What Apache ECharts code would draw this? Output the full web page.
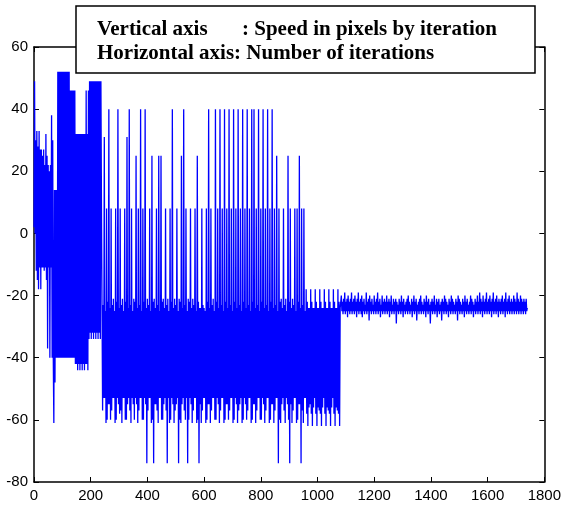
<!DOCTYPE html>
<html>
<head>
<meta charset="utf-8">
<script src="https://cdn.jsdelivr.net/npm/echarts@6/dist/echarts.min.js"></script>
<style>
  html, body { margin: 0; padding: 0; background: #fff; }
  #chart { width: 564px; height: 508px; }
</style>
</head>
<body>
<div id="chart"></div>
<script>
const xTicks = [0, 1800, 200]
const yTicks = [-80, 60, 20]

// iterations 0 .. 238, one sample every 2 iterations
const earlyStart = 0, earlyStep = 2
const speedEarly = [
  2, 49, 0, 30, -12, 33, -15, 28, -18, 33, -11, 27,
  -18, 27, -11, 25, -11, 27, -12, 22, -11, 32, -15, 25,
  -37, 22, -11, 20, -40, 22, -11, 38, -40, 30, -40, -61,
  14, -48, 14, -40, 14, -40, 52, -40, 52, -40, 52, -40,
  52, -40, 52, -40, 52, -40, 52, -40, 52, -40, 52, -40,
  52, -40, 52, -40, 46, -40, 46, -40, 46, -40, 46, -40,
  46, -42, 32, -42, 32, -44, 32, -42, 32, -44, 32, -42,
  32, -44, 32, -42, 32, -44, 32, -42, 46, -42, 32, -44,
  46, -34, 49, -32, 49, -34, 49, -32, 49, -34, 49, -32,
  49, -34, 49, -32, 49, -34, 49, -32, 49, -34, 49, 8
]

// iterations 240 .. 1080, one sample every 2 iterations
const midStart = 240, midStep = 2
const speedMid = [
  8, -57, -23, -53, 31, -53, -25, -61, 8, -60, -22, -55, 40, -55, -24, -60, 8, -57, -23, -53,
  -21, -53, -25, -61, 8, -60, -22, -53, 40, -55, -24, -58, 8, -57, -23, -61, -21, -53, -25, -53,
  8, -60, -22, -60, 31, -55, -24, -53, 40, -57, -23, -61, 8, -53, -25, -55, -21, -60, -22, -53,
  25, -55, -24, -61, 8, -57, -23, -53, 40, -53, -25, -60, 8, -60, -22, -53, 40, -55, -24, -74,
  -21, -57, -23, -53, 8, -53, -25, -61, 25, -60, -22, -74, -21, -55, -24, -55, 8, -57, -23, -61,
  25, -53, -25, -53, 25, -60, -22, -60, -21, -55, -24, -53, 8, -57, -23, -74, -21, -53, -25, -61,
  8, -60, -22, -53, 40, -55, -24, -61, -21, -57, -23, -55, 8, -53, -25, -74, -21, -60, -22, -61,
  25, -55, -24, -53, 40, -57, -23, -60, 8, -53, -25, -74, -21, -60, -22, -53, 8, -55, -24, -61,
  -21, -57, -23, -53, 8, -53, -25, -61, 25, -60, -22, -74, -24, -55, -24, -61, 8, -57, -23, -53,
  -24, -53, -25, -61, 8, -60, -22, -55, 40, -55, -24, -61, 8, -57, -23, -53, -21, -53, -25, -60,
  40, -60, -22, -53, 8, -55, -24, -61, 40, -57, -23, -53, 8, -53, -25, -61, 40, -60, -22, -55,
  8, -55, -24, -60, 40, -57, -23, -53, 8, -53, -25, -61, 40, -60, -22, -53, 8, -55, -24, -61,
  40, -57, -23, -55, 8, -53, -25, -61, 40, -60, -22, -53, 8, -55, -24, -60, 40, -57, -23, -53,
  8, -53, -25, -61, 40, -60, -22, -55, 40, -55, -24, -61, 8, -57, -23, -53, 40, -53, -25, -60,
  8, -60, -22, -53, 40, -55, -24, -61, 8, -57, -23, -53, 40, -53, -25, -61, 8, -60, -22, -55,
  40, -55, -24, -61, 8, -57, -23, -53, 25, -53, -25, -74, 8, -60, -22, -61, -21, -55, -24, -53,
  8, -57, -23, -61, -21, -53, -25, -55, 25, -60, -22, -74, 8, -55, -24, -61, -21, -57, -23, -53,
  8, -53, -25, -61, 8, -60, -22, -55, 25, -55, -24, -74, 8, -57, -23, -61, 8, -53, -25, -53,
  -18, -58, -22, -62, -24, -56, -24, -55, -18, -58, -22, -62, -24, -56, -24, -53, -18, -58, -22, -62,
  -24, -56, -24, -57, -18, -58, -22, -62, -24, -56, -24, -53, -18, -58, -22, -62, -24, -56, -24, -57,
  -18, -58, -22, -62, -24, -56, -24, -53, -18, -58, -22, -62, -24, -56, -24, -57, -18, -58, -22, -62,
  -24
]

// iterations 1084 .. 1740, one sample every 2 iterations
const lateStart = 1084, lateStep = 2
const speedLate = [
  -20, -25, -22, -26, -21, -25, -19, -26, -22, -25, -21, -27, -20, -25, -22, -26, -21, -25, -19, -26,
  -22, -25, -21, -26, -20, -25, -22, -27, -21, -25, -19, -26, -22, -25, -21, -26, -20, -27, -22, -25,
  -21, -26, -23, -25, -19, -26, -22, -25, -21, -28, -20, -25, -22, -26, -21, -25, -23, -26, -20, -25,
  -22, -26, -21, -25, -19, -26, -22, -25, -21, -27, -23, -25, -20, -26, -22, -25, -21, -26, -22, -25,
  -20, -26, -22, -25, -21, -27, -22, -25, -20, -26, -23, -25, -21, -26, -22, -25, -21, -29, -22, -25,
  -23, -26, -21, -25, -22, -26, -20, -25, -22, -27, -21, -25, -23, -26, -22, -25, -21, -26, -20, -25,
  -22, -26, -23, -25, -21, -27, -22, -25, -20, -26, -22, -25, -21, -28, -23, -25, -22, -26, -21, -25,
  -20, -26, -22, -25, -23, -26, -21, -25, -22, -27, -20, -25, -22, -26, -21, -25, -23, -29, -22, -25,
  -21, -26, -22, -25, -20, -26, -23, -25, -21, -27, -22, -25, -21, -26, -23, -25, -22, -28, -21, -25,
  -22, -26, -20, -25, -21, -26, -22, -25, -23, -27, -21, -25, -22, -26, -20, -25, -21, -26, -22, -25,
  -23, -26, -21, -25, -22, -28, -20, -25, -21, -26, -22, -25, -23, -26, -21, -25, -22, -27, -20, -25,
  -22, -26, -21, -25, -23, -26, -22, -25, -20, -26, -21, -25, -22, -27, -23, -25, -21, -26, -22, -25,
  -20, -26, -22, -25, -19, -26, -21, -25, -22, -27, -20, -25, -22, -26, -21, -25, -19, -26, -22, -25,
  -21, -26, -20, -25, -22, -27, -21, -25, -19, -26, -22, -25, -21, -26, -20, -25, -22, -27, -21, -25,
  -22, -26, -21, -25, -20, -26, -22, -25, -21, -27, -19, -25, -22, -26, -21, -25, -20, -26, -22, -25,
  -21, -26, -22, -25, -20, -26, -21, -25, -22, -26, -19, -25, -21, -26, -22, -25, -20, -26, -21, -25,
  -22, -26, -21, -25, -22, -26, -21, -25, -24
]

function toPoints(start, step, values) {
  return values.map((v, i) => [start + i * step, v])
}
let seriesData = [].concat(
  toPoints(earlyStart, earlyStep, speedEarly),
  toPoints(midStart, midStep, speedMid),
  toPoints(lateStart, lateStep, speedLate)
)

let axisLine = { show: true, onZero: false, lineStyle: { color: '#000', width: 1.5 } }
let tickIn = { show: true, inside: true, length: 5, lineStyle: { color: '#000', width: 1 } }
let labelStyle = { color: '#000', fontFamily: 'Liberation Sans', fontSize: 15, formatter: v => String(v) }
let textFont = 'bold 21px "Liberation Serif"'

let option = {
  animation: false,
  backgroundColor: '#fff',
  grid: { left: 34, right: 18, top: 47, bottom: 26 },
  xAxis: [
    {
      type: 'value', min: xTicks[0], max: xTicks[1], interval: xTicks[2],
      axisLine: axisLine, axisTick: tickIn, splitLine: { show: false },
      axisLabel: Object.assign({ margin: 6 }, labelStyle)
    },
    {
      type: 'value', position: 'top', min: xTicks[0], max: xTicks[1], interval: xTicks[2],
      axisLine: axisLine, axisTick: tickIn, splitLine: { show: false },
      axisLabel: { show: false }
    }
  ],
  yAxis: [
    {
      type: 'value', min: yTicks[0], max: yTicks[1], interval: yTicks[2],
      axisLine: axisLine, axisTick: tickIn, splitLine: { show: false },
      axisLabel: Object.assign({ margin: 6 }, labelStyle)
    },
    {
      type: 'value', position: 'right', min: yTicks[0], max: yTicks[1], interval: yTicks[2],
      axisLine: axisLine, axisTick: tickIn, splitLine: { show: false },
      axisLabel: { show: false }
    }
  ],
  series: [
    {
      type: 'line',
      data: seriesData,
      showSymbol: false,
      symbol: 'none',
      color: '#0000ff',
      lineStyle: { color: '#0000ff', width: 1.3 },
      z: 1
    }
  ],
  graphic: [
    {
      type: 'rect', z: 100,
      shape: { x: 76, y: 6, width: 459, height: 67 },
      style: { fill: '#fff', stroke: '#000', lineWidth: 1.5 }
    },
    {
      type: 'text', z: 101, x: 97, y: 30,
      style: { text: 'Vertical axis', font: textFont, fill: '#000', verticalAlign: 'middle' }
    },
    {
      type: 'text', z: 101, x: 242, y: 30,
      style: { text: ': Speed in pixels by iteration', font: textFont, fill: '#000', verticalAlign: 'middle' }
    },
    {
      type: 'text', z: 101, x: 97, y: 54,
      style: { text: 'Horizontal axis: Number of iterations', font: textFont, fill: '#000', verticalAlign: 'middle' }
    }
  ]
}

let chartsInstance = echarts.init(document.getElementById('chart'))
chartsInstance.setOption(option)
</script>
</body>
</html>
